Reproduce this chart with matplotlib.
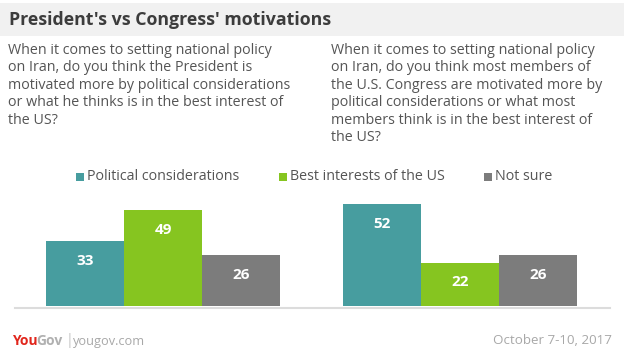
import matplotlib.pyplot as plt
from matplotlib.patches import Rectangle

# Data
series = ['Political considerations', 'Best interests of the US', 'Not sure']
president = [33, 49, 26]
congress = [52, 22, 26]
colors = ['#479d9f', '#86c520', '#7c7c7c']

title = "President's vs Congress' motivations"
q_left = ("When it comes to setting national policy\non Iran, do you think the President is\n"
          "motivated more by political considerations\nor what he thinks is in the best interest of\nthe US?")
q_right = ("When it comes to setting national policy\non Iran, do you think most members of\n"
           "the U.S. Congress are motivated more by\npolitical considerations or what most\n"
           "members think is in the best interest of\nthe US?")

W, H = 624, 352
plt.rcParams['font.family'] = ['Open Sans', 'DejaVu Sans']
fig = plt.figure(figsize=(W / 100, H / 100), dpi=100)
fig.patch.set_facecolor('white')

def px(x, y):
    return x / W, 1 - y / H

# Title band
fig.patches.append(Rectangle((0, 1 - 36 / H), 1, 33 / H, transform=fig.transFigure,
                             facecolor='#f1f1f1', edgecolor='none'))
fig.text(*px(9, 20), title, fontsize=12.8, fontweight='bold', color='#3c3c3c', va='center')

# Questions
fig.text(*px(8, 43), q_left, fontsize=10.3, color='#555555', va='top', linespacing=1.22)
fig.text(*px(331, 43), q_right, fontsize=10.3, color='#555555', va='top', linespacing=1.22)

# Legend
leg_x = [76, 279, 484]
for lx, name, c in zip(leg_x, series, colors):
    fig.patches.append(Rectangle(px(lx, 181), 8 / W, 8 / H, transform=fig.transFigure,
                                 facecolor=c, edgecolor='none'))
    fig.text(*px(lx + 11, 177), name, fontsize=10.3, color='#555555', va='center')

# Bars axes: pixel coordinates x 15..610, baseline at y=306
base = 306
ax_h = 130
scale = 1.96  # px per unit
ax = fig.add_axes([15 / W, 1 - base / H, (610 - 15) / W, ax_h / H])
ax.set_xlim(15, 610)
ax.set_ylim(0, ax_h / scale)
ax.axis('off')

bw = 78
for start, vals in [(46, president), (343, congress)]:
    for i, v in enumerate(vals):
        x = start + i * bw
        ax.bar(x, v, width=bw, align='edge', color=colors[i], edgecolor='none')
        ax.text(x + bw / 2, v - 10, str(v), ha='center', va='center', color='white',
                fontsize=11, fontweight='bold')

# Baseline
fig.lines.append(plt.Line2D([15 / W, 610 / W], [1 - 307.5 / H] * 2, transform=fig.transFigure,
                            color='#dcdcdc', linewidth=1.5))

# Footer
fig.text(*px(12, 341), 'You', fontsize=10, fontweight='bold', color='#e1261c', va='center')
fig.text(*px(36, 341), 'Gov', fontsize=10, fontweight='bold', color='#b0b0b0', va='center')
fig.text(*px(66, 341), '|', fontsize=10, color='#c4c4c4', va='center')
fig.text(*px(73, 341), 'yougov.com', fontsize=9.2, color='#a8a8a8', va='center')
fig.text(*px(612, 341), 'October 7-10, 2017', fontsize=9.6, color='#a8a8a8', va='center', ha='right')

fig.savefig('out.png', dpi=100)
